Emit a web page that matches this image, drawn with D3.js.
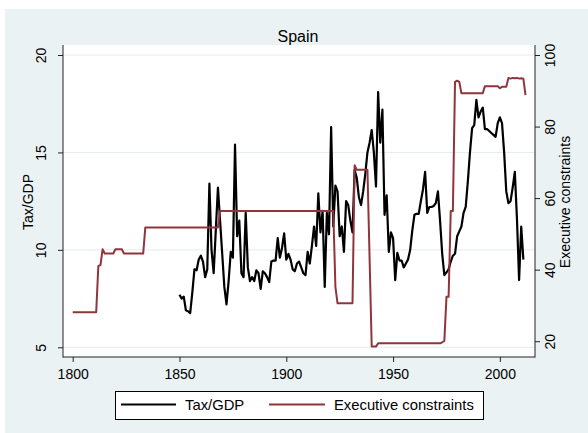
<!DOCTYPE html>
<html><head><meta charset="utf-8">
<script src="https://cdn.jsdelivr.net/npm/d3@7"></script>
<style>
body{margin:0;background:#fff}
text{font-family:"Liberation Sans",Arial,Helvetica,sans-serif;fill:#000}
</style>
</head><body>
<svg id="chart" width="588" height="433"></svg>
<script>
// ---------------- DATA ----------------
const chartTitle = "Spain";
const seriesNames = ["Tax/GDP", "Executive constraints"];
const xTickValues = [1800, 1850, 1900, 1950, 2000];
const leftTickValues = [5, 10, 15, 20];
const rightTickValues = [20, 40, 60, 80, 100];

// Tax/GDP, one value per year from 1850
const taxStartYear = 1850;
const taxValues = [
  7.7, 7.5, 7.6, 6.9, 6.85, 6.75, 7.8, 9.0, 8.95, 9.5,      // 1850s
  9.7, 9.4, 8.6, 9.0, 13.4, 10.0, 8.8, 11.0, 13.2, 11.5,    // 1860s
  9.8, 8.1, 7.2, 8.4, 9.9, 9.6, 15.4, 10.7, 11.5, 8.8,      // 1870s
  8.6, 11.9, 9.1, 8.4, 8.6, 8.4, 8.95, 8.8, 8.0, 8.9,       // 1880s
  8.8, 8.6, 8.35, 9.4, 9.45, 9.45, 10.6, 9.6, 10.1, 10.85,  // 1890s
  9.5, 9.8, 9.5, 9.0, 8.9, 9.3, 9.4, 9.1, 8.8, 8.7,         // 1900s
  9.9, 9.3, 10.2, 11.2, 10.2, 12.9, 10.9, 12.0, 8.1, 11.9,  // 1910s
  10.8, 16.3, 11.2, 13.3, 13.0, 10.7, 11.2, 9.9, 12.5, 12.3,// 1920s
  11.5, 10.9, 14.1, 13.7, 12.7, 12.3, 13.0, 13.9, 15.0, 15.5,// 1930s
  16.15, 15.0, 13.25, 18.1, 15.5, 17.2, 11.8, 12.8, 9.9, 10.9,// 1940s
  10.6, 8.45, 9.85, 9.45, 9.45, 9.1, 9.3, 9.5, 10.0, 11.0,  // 1950s
  11.8, 11.85, 11.85, 12.5, 13.1, 14.0, 11.9, 12.2, 12.2, 12.25,// 1960s
  12.4, 13.0, 11.5, 9.8, 8.7, 8.85, 9.0, 9.4, 9.7, 9.8,     // 1970s
  10.7, 10.95, 11.2, 11.9, 12.2, 13.5, 15.0, 16.25, 16.4, 17.7,// 1980s
  16.8, 17.1, 17.3, 16.2, 16.2, 16.1, 16.0, 15.9, 15.8, 16.5,// 1990s
  16.8, 16.5, 15.0, 13.0, 12.4, 12.5, 13.2, 14.0, 11.6, 8.45,// 2000s
  11.2, 9.5                                                   // 2010-2011
];

// Executive constraints, one value per year from 1800
const execStartYear = 1800;
const execValues = [
  28.1, 28.1, 28.1, 28.1, 28.1, 28.1, 28.1, 28.1, 28.1, 28.1, // 1800s
  28.1, 28.1, 41.0, 41.3, 45.7, 44.5, 44.5, 44.5, 44.5, 44.5, // 1810s
  45.7, 45.7, 45.7, 45.7, 44.5, 44.5, 44.5, 44.5, 44.5, 44.5, // 1820s
  44.5, 44.5, 44.5, 44.5, 51.8, 51.8, 51.8, 51.8, 51.8, 51.8, // 1830s
  51.8, 51.8, 51.8, 51.8, 51.8, 51.8, 51.8, 51.8, 51.8, 51.8, // 1840s
  51.8, 51.8, 51.8, 51.8, 51.8, 51.8, 51.8, 51.8, 51.8, 51.8, // 1850s
  51.8, 51.8, 51.8, 51.8, 51.8, 51.8, 51.8, 51.8, 51.8, 56.4, // 1860s
  56.4, 56.4, 56.4, 56.4, 56.4, 56.4, 56.4, 56.4, 56.4, 56.4, // 1870s
  56.4, 56.4, 56.4, 56.4, 56.4, 56.4, 56.4, 56.4, 56.4, 56.4, // 1880s
  56.4, 56.4, 56.4, 56.4, 56.4, 56.4, 56.4, 56.4, 56.4, 56.4, // 1890s
  56.4, 56.4, 56.4, 56.4, 56.4, 56.4, 56.4, 56.4, 56.4, 56.4, // 1900s
  56.4, 56.4, 56.4, 56.4, 56.4, 56.4, 56.4, 56.4, 56.4, 56.4, // 1910s
  56.4, 56.4, 56.4, 35.2, 30.6, 30.6, 30.6, 30.6, 30.6, 30.6, // 1920s
  30.6, 30.6, 69.2, 67.9, 67.9, 67.9, 67.9, 67.9, 67.9, 43.2, // 1930s
  18.5, 18.5, 18.5, 19.4, 19.4, 19.4, 19.4, 19.4, 19.4, 19.4, // 1940s
  19.4, 19.4, 19.4, 19.4, 19.4, 19.4, 19.4, 19.4, 19.4, 19.4, // 1950s
  19.4, 19.4, 19.4, 19.4, 19.4, 19.4, 19.4, 19.4, 19.4, 19.4, // 1960s
  19.4, 19.4, 19.4, 19.7, 20.1, 32.4, 32.4, 56.4, 56.4, 92.5, // 1970s
  92.8, 92.5, 89.3, 89.3, 89.3, 89.3, 89.3, 89.3, 89.3, 89.3, // 1980s
  89.3, 89.3, 89.3, 91.3, 91.3, 91.3, 91.3, 91.3, 91.3, 91.3, // 1990s
  90.7, 91.1, 91.1, 91.1, 93.6, 93.4, 93.6, 93.5, 93.6, 93.4, // 2000s
  93.5, 93.4, 88.8                                            // 2010-2012
];

// ---------------- CHART ----------------
const svg = d3.select("#chart");
const W = 588, H = 433;
const plot = {left: 63, right: 535, top: 45, bottom: 357};

const taxData = taxValues.map((v, i) => ({year: taxStartYear + i, value: v}));
const execData = execValues.map((v, i) => ({year: execStartYear + i, value: v}));

const x = d3.scaleLinear().domain([1800, 2012]).range([72.7, 525.5]);
const yL = d3.scaleLinear().domain([5, 20]).range([347.3, 55]);
const yR = d3.scaleLinear().domain([d3.min(execValues) - 0.2, 100]).range([347.3, 55]);

// backgrounds
svg.append("rect").attr("x", 0).attr("y", 0).attr("width", W).attr("height", H).attr("fill", "#ffffff");
svg.append("rect").attr("x", 5).attr("y", 9).attr("width", W - 5).attr("height", H - 9).attr("fill", "#EAF2F3");
svg.append("rect").attr("x", plot.left).attr("y", plot.top)
  .attr("width", plot.right - plot.left).attr("height", plot.bottom - plot.top).attr("fill", "#ffffff");

// gridlines
svg.append("g").selectAll("line").data(leftTickValues).join("line")
  .attr("x1", plot.left).attr("x2", plot.right)
  .attr("y1", d => yL(d)).attr("y2", d => yL(d))
  .attr("stroke", "#E3ECEE").attr("stroke-width", 1);

// axes
const axisColor = "#222";
function styleAxis(g) {
  g.select(".domain").remove();
  g.selectAll(".tick line").attr("stroke", axisColor);
  g.selectAll("text").style("font-size", "14px").attr("fill", "#000");
}
const gx = svg.append("g").attr("transform", `translate(0,${plot.bottom})`)
  .call(d3.axisBottom(x).tickValues(xTickValues).tickFormat(d3.format("d")).tickSize(5).tickPadding(6));
styleAxis(gx);
gx.selectAll("text").attr("dy", null).attr("y", 21.5);

const gl = svg.append("g").attr("transform", `translate(${plot.left},0)`)
  .call(d3.axisLeft(yL).tickValues(leftTickValues).tickSize(5));
styleAxis(gl);
gl.selectAll("text").attr("x", null).attr("dy", null)
  .attr("text-anchor", "middle")
  .attr("transform", "translate(-17,0) rotate(-90)");

const gr = svg.append("g").attr("transform", `translate(${plot.right},0)`)
  .call(d3.axisRight(yR).tickValues(rightTickValues).tickSize(5));
styleAxis(gr);
gr.selectAll("text").attr("x", null).attr("dy", null)
  .attr("text-anchor", "middle")
  .attr("transform", "translate(20,0) rotate(-90)");

// axis lines spanning the plot region
svg.append("line").attr("x1", plot.left).attr("x2", plot.left).attr("y1", plot.top).attr("y2", plot.bottom + 0.5).attr("stroke", axisColor);
svg.append("line").attr("x1", plot.right).attr("x2", plot.right).attr("y1", plot.top).attr("y2", plot.bottom + 0.5).attr("stroke", axisColor);
svg.append("line").attr("x1", plot.left).attr("x2", plot.right).attr("y1", plot.bottom).attr("y2", plot.bottom).attr("stroke", axisColor);

// axis titles
svg.append("text").attr("transform", `translate(32.5,${(plot.top + plot.bottom) / 2 + 1}) rotate(-90)`)
  .attr("text-anchor", "middle").style("font-size", "14px").text(seriesNames[0]);
svg.append("text").attr("transform", `translate(570,${(plot.top + plot.bottom) / 2 + 1}) rotate(-90)`)
  .attr("text-anchor", "middle").style("font-size", "14px").text(seriesNames[1]);

// title
svg.append("text").attr("x", 298).attr("y", 42).attr("text-anchor", "middle")
  .style("font-size", "16px").text(chartTitle);

// lines
const colors = ["#000000", "#90353B"];
const lineL = d3.line().x(d => x(d.year)).y(d => yL(d.value));
const lineR = d3.line().x(d => x(d.year)).y(d => yR(d.value));
svg.append("path").datum(taxData).attr("d", lineL).attr("fill", "none")
  .attr("stroke", colors[0]).attr("stroke-width", 2.2).attr("stroke-linejoin", "round");
svg.append("path").datum(execData).attr("d", lineR).attr("fill", "none")
  .attr("stroke", colors[1]).attr("stroke-width", 2).attr("stroke-linejoin", "round");

// legend
const lg = svg.append("g");
lg.append("rect").attr("x", 115.5).attr("y", 391.5).attr("width", 368).attr("height", 28)
  .attr("fill", "#fff").attr("stroke", "#000").attr("stroke-width", 1);
const legendItems = [
  {name: seriesNames[0], color: colors[0], x1: 121, x2: 176, tx: 185},
  {name: seriesNames[1], color: colors[1], x1: 269, x2: 325, tx: 334}
];
legendItems.forEach(it => {
  lg.append("line").attr("x1", it.x1).attr("x2", it.x2).attr("y1", 404.5).attr("y2", 404.5)
    .attr("stroke", it.color).attr("stroke-width", 2);
  lg.append("text").attr("x", it.tx).attr("y", 410).style("font-size", "14.8px").text(it.name);
});
</script>
</body></html>
